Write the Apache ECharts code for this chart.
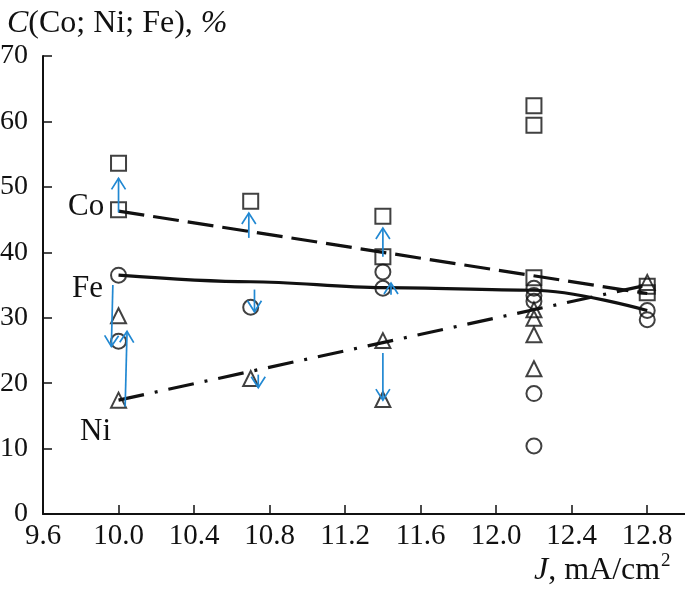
<!DOCTYPE html>
<html><head><meta charset="utf-8">
<script src="https://cdn.jsdelivr.net/npm/echarts@6/dist/echarts.min.js"></script>
<style>html,body{margin:0;padding:0;background:#fff}#c{width:685px;height:597px}</style>
</head><body><div id="c"></div>
<script>
// Axis ticks
const xTickValues = [9.6, 10.0, 10.4, 10.8, 11.2, 11.6, 12.0, 12.4, 12.8];
const yTickValues = [0, 10, 20, 30, 40, 50, 60, 70];
// Measured points [J, C%]
const coPoints = [[10.0,53.6],[10.0,46.5],[10.7,47.8],[11.4,45.5],[11.4,39.3],[12.2,62.4],[12.2,59.4],[12.2,36.1],[12.8,34.8],[12.8,33.8]];
const fePoints = [[10.0,36.5],[10.0,26.4],[10.7,31.6],[11.4,37.0],[11.4,34.5],[12.2,34.5],[12.2,33.4],[12.2,32.5],[12.2,18.4],[12.2,10.4],[12.8,31.1],[12.8,29.7]];
const niPoints = [[10.0,30.3],[10.0,17.4],[10.7,20.7],[11.4,26.5],[11.4,17.5],[12.2,31.2],[12.2,29.9],[12.2,27.4],[12.2,22.2],[12.8,35.4]];
// Trend lines
const coLine = [[10.0,46.3],[12.8,33.7]];
const feLine = [[10.0,36.5],[10.7,35.5],[11.4,34.6],[12.2,34.2],[12.8,31.1]];
const niLine = [[10.0,17.4],[12.8,35.0]];
// Blue arrows [x1,y1,x2,y2]
const arrows = [
  [10.0,46.1,10.0,51.3],
  [9.97,35.0,9.962,25.6],
  [10.035,16.4,10.045,27.9],
  [10.69,42.2,10.69,46.0],
  [10.72,34.3,10.72,30.9],
  [10.74,21.3,10.74,19.3],
  [11.4,39.3,11.4,43.7],
  [11.443,33.5,11.443,35.3],
  [11.4,24.6,11.4,17.4]
];

const FONT = 'Liberation Serif';
const INK = '#111';
const BLUE = '#2188d2';
const chart = echarts.init(document.getElementById('c'), null, {renderer:'canvas'});

function markerSeries(data, sym){
  return {type:'scatter', data, symbol:sym, symbolSize:15, z:4,
    itemStyle:{color:'rgba(0,0,0,0)', borderColor:INK, borderWidth:2}};
}

chart.setOption({
  animation:false,
  backgroundColor:'#fff',
  title:{text:'{i|C}(Co; Ni; Fe), {i|%}', left:2, top:3,
    textStyle:{fontFamily:FONT, fontSize:32, fontWeight:'normal', color:INK,
      rich:{i:{fontFamily:FONT, fontSize:32, fontStyle:'italic', color:INK}}}},
  grid:{left:43, right:0, top:56, bottom:83, containLabel:false, outerBoundsMode:'none'},
  xAxis:{type:'value', min:9.6, max:13.0, interval:0.4,
    axisLine:{show:true, lineStyle:{color:INK, width:2}},
    axisTick:{show:true, inside:true, length:9, lineStyle:{color:INK, width:1.5}},
    axisLabel:{fontFamily:FONT, fontSize:29, color:INK, margin:8, showMaxLabel:false,
      formatter:v => { const t = xTickValues.find(x => Math.abs(x-v)<1e-6); return t===undefined?'':t.toFixed(1); }},
    splitLine:{show:false}},
  yAxis:{type:'value', min:0, max:70, interval:10,
    axisLine:{show:true, lineStyle:{color:INK, width:2}},
    axisTick:{show:true, inside:true, length:9, lineStyle:{color:INK, width:1.5}},
    axisLabel:{fontFamily:FONT, fontSize:28, color:INK, margin:15,
      formatter:v => yTickValues.includes(v) ? String(v) : ''},
    splitLine:{show:false}},
  graphic:[
    {type:'text', left:534, top:555, z:10, style:{text:'{i|J}, mA/cm', fontFamily:FONT, fontSize:32, fill:INK,
      rich:{i:{fontFamily:FONT, fontSize:32, fontStyle:'italic', fill:INK}}}},
    {type:'text', left:661, top:552, z:10, style:{text:'2', fontFamily:FONT, fontSize:19, fill:INK}},
    {type:'text', left:68, top:191, z:10, style:{text:'Co', fontFamily:FONT, fontSize:31, fill:INK}},
    {type:'text', left:72, top:273, z:10, style:{text:'Fe', fontFamily:FONT, fontSize:31, fill:INK}},
    {type:'text', left:80, top:416, z:10, style:{text:'Ni', fontFamily:FONT, fontSize:31, fill:INK}}
  ],
  series:[
    {type:'line', data:coLine, symbol:'none', z:3, lineStyle:{color:INK, width:3.2, type:[26,9]}},
    {type:'line', data:feLine, symbol:'none', smooth:0.35, smoothMonotone:'x', z:3, lineStyle:{color:INK, width:3.2, type:'solid'}},
    {type:'line', data:niLine, symbol:'none', z:3, lineStyle:{color:INK, width:3.2, type:[26,11,3,11]}},
    markerSeries(coPoints,'rect'),
    markerSeries(fePoints,'circle'),
    markerSeries(niPoints,'triangle'),
    {type:'custom', data:arrows, encode:{x:[0,2], y:[1,3]}, z:6,
      renderItem:(params, api) => {
        const p1 = api.coord([api.value(0), api.value(1)]);
        const p2 = api.coord([api.value(2), api.value(3)]);
        const dx = p2[0]-p1[0], dy = p2[1]-p1[1];
        const len = Math.hypot(dx, dy) || 1;
        const ux = dx/len, uy = dy/len;
        const hl = 11, hw = 7;
        const b = [p2[0]-ux*hl, p2[1]-uy*hl];
        const l = [b[0]-uy*hw, b[1]+ux*hw];
        const r = [b[0]+uy*hw, b[1]-ux*hw];
        return {type:'group', children:[
          {type:'line', shape:{x1:p1[0], y1:p1[1], x2:p2[0], y2:p2[1]}, style:{stroke:BLUE, lineWidth:1.7}},
          {type:'polyline', shape:{points:[l, p2, r]}, style:{stroke:BLUE, lineWidth:1.7, fill:null}}
        ]};
      }}
  ]
});
</script></body></html>
